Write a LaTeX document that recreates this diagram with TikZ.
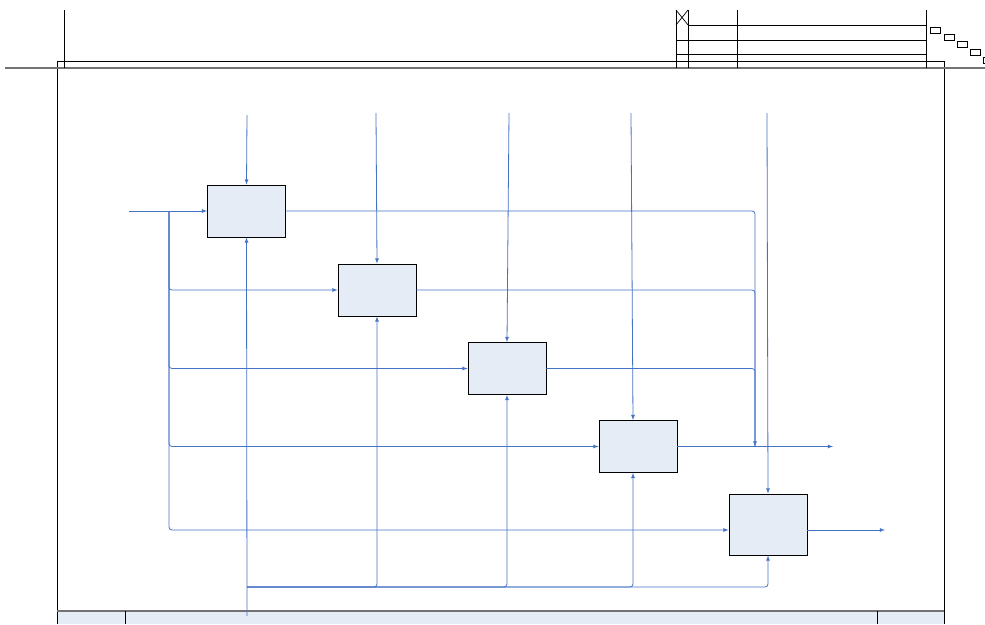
\documentclass[tikz,border=0pt]{standalone}
\usetikzlibrary{arrows}

\definecolor{lineblue}{HTML}{4472C4}
\definecolor{boxfill}{HTML}{E6ECF6}

\begin{document}
\begin{tikzpicture}[x=1pt, y=-1pt,
  act/.style={draw=black, fill=boxfill, minimum width=78pt, minimum height=52pt, inner sep=0pt, line width=0.8pt},
  flow/.style={lineblue, line width=0.8pt, rounded corners=3pt}]
  \useasboundingbox (0,0) rectangle (985,624);

  % Sheet frame and header
  \fill[boxfill] (57,611) rectangle (944,624);
  \draw[line width=0.7pt] (57,624) -- (57,61) -- (944,61) -- (944,624);
  \draw[black!55, line width=1.4pt] (5,68) -- (985,68);
  \draw[black!55, line width=1.2pt] (57,611) -- (944,611);
  \draw[line width=0.7pt] (125,611) -- (125,624) (877,611) -- (877,624);
  \draw[line width=0.7pt] (64,10) -- (64,68);
  \foreach \x in {676,688,737,926}
    \draw[line width=0.7pt] (\x,10) -- (\x,68);
  \draw[line width=0.7pt] (676,10) -- (688,25) (688,10) -- (676,25);
  \draw[line width=0.7pt] (688,25) -- (926,25) (676,40) -- (926,40) (676,54) -- (926,54);
  \foreach \x/\y in {930/27, 944/34, 957/41, 970/49, 983/57}
    \draw[line width=0.7pt] (\x,\y) rectangle +(10,6);

  % Activity boxes
  \node[act] (a1) at (246.5,211) {};
  \node[act] (a2) at (377,290) {};
  \node[act] (a3) at (507,368.5) {};
  \node[act] (a4) at (638,446.5) {};
  \node[act, minimum height=61pt] (a5) at (768,524.5) {};

  % Controls from above
  \coordinate (c1) at (247,115);
  \coordinate (c2) at (376,113);
  \coordinate (c3) at (509,113);
  \coordinate (c4) at (631,113);
  \coordinate (c5) at (767,113);
  \draw[flow,-latex] (c1) -- (a1.north);
  \draw[flow,-latex] (c2) -- (a2.north);
  \draw[flow,-latex] (c3) -- (a3.north);
  \draw[flow,-latex] (c4) -- ([xshift=-5pt]a4.north);
  \draw[flow,-latex] (c5) -- (a5.north);

  % Inputs
  \coordinate (in) at (129,211);
  \coordinate (split) at (169,211);
  \draw[flow,-latex] (in) -- (a1);
  \draw[flow,-latex] (split) |- (a2);
  \draw[flow,-latex] (split) |- (a3);
  \draw[flow,-latex] (split) |- (a4);
  \draw[flow,-latex] (split) |- ([yshift=-5.5pt]a5.west);

  % Outputs
  \coordinate (join) at (755,446.5);
  \coordinate (out4) at (833,446.5);
  \coordinate (out5) at (885,530);
  \draw[flow] (a1) -| (join);
  \draw[flow] (a2) -| (join);
  \draw[flow,-latex] (a3) -| (join);
  \draw[flow,-latex] (a4) -- (out4);
  \draw[flow,-latex] ([yshift=-5.5pt]a5.east) -- (out5);

  % Mechanisms from below
  \coordinate (mech) at (247,616);
  \coordinate (bus) at (247,587);
  \draw[flow,-latex] (mech) -- (a1.south);
  \draw[flow,-latex] (bus) -| (a2);
  \draw[flow,-latex] (bus) -| (a3);
  \draw[flow,-latex] (bus) -| ([xshift=-5pt]a4.south);
  \draw[flow,-latex] (bus) -| (a5);

\end{tikzpicture}
\end{document}
